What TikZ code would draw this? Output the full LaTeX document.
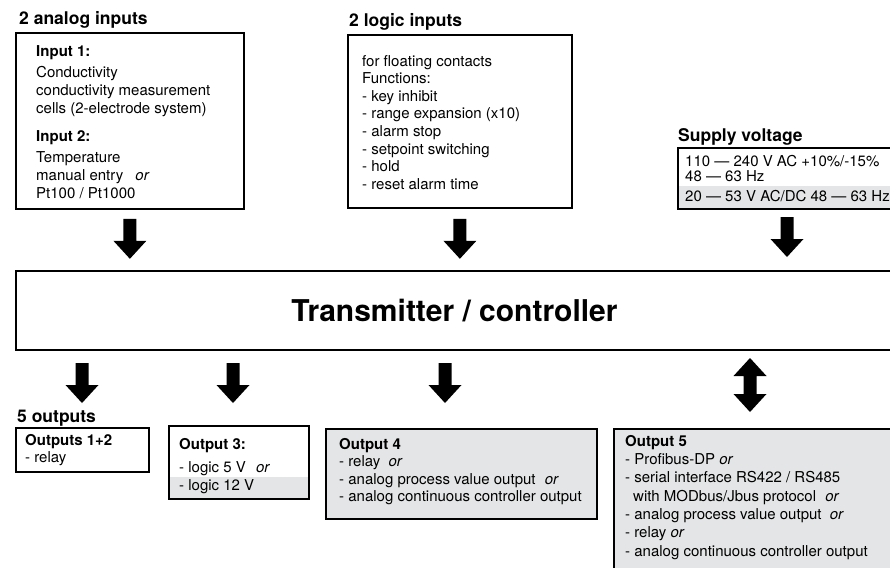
\documentclass[tikz,border=0pt]{standalone}
\usepackage{fontspec}
\setmainfont{TeX Gyre Heros}
\usetikzlibrary{calc}
\definecolor{boxgray}{HTML}{E4E5E6}
\begin{document}
\begin{tikzpicture}[x=1pt,y=-1pt,
  box/.style={draw=black, line width=1.8pt, inner sep=0pt, anchor=north west},
  obox/.style={draw=black, line width=2.2pt, inner sep=0pt, anchor=north west},
  body/.style={anchor=north west, inner sep=0pt, align=left, font=\fontsize{15}{17.6}\selectfont},
  ln/.style={anchor=base west, inner sep=0pt, font=\fontsize{15}{17}\selectfont},
  ttl/.style={anchor=base west, inner sep=0pt, font=\bfseries\fontsize{17.5}{20}\selectfont},
  downarrow/.pic={\fill[black] (-6.5,0) -- (6.5,0) -- (6.5,22) -- (16.5,22) -- (0,40) -- (-16.5,22) -- (-6.5,22) -- cycle;},
  updownarrow/.pic={\fill[black] (0,0) -- (16.5,18) -- (6.5,18) -- (6.5,36) -- (16.5,36) -- (0,54) -- (-16.5,36) -- (-6.5,36) -- (-6.5,18) -- (-16.5,18) -- cycle;}
]
\useasboundingbox (0,0) rectangle (890,567);

% ---- inputs ----
\node[ttl] (anattl) at (19,25) {2 analog inputs};
\node[box, minimum width=228pt, minimum height=176pt] (ana) at (15,32) {};
\node[body, font=\fontsize{15}{18}\selectfont] (anat) at (36,45)
  {\textbf{Input 1:}\\[3pt] Conductivity\\ conductivity measurement\\ cells (2-electrode system)\\[10pt]
   \textbf{Input 2:}\\[3pt] Temperature\\ manual entry\hspace{8pt} \textit{or}\\ Pt100 / Pt1000};

\node[ttl] (logttl) at (349,27) {2 logic inputs};
\node[box, minimum width=224pt, minimum height=173pt] (log) at (347,34) {};
\node[body] (logt) at (362,55)
  {for floating contacts\\ Functions:\\ - key inhibit\\ - range expansion (x10)\\ - alarm stop\\
   - setpoint switching\\ - hold\\ - reset alarm time};

\node[ttl] (supttl) at (678,141) {Supply voltage};
\fill[boxgray] (677,186) rectangle (893,208);
\node[box, minimum width=216pt, minimum height=61pt] (sup) at (677,147) {};
\node[ln] (sup1) at (685,166) {110 — 240 V AC +10\%/-15\%};
\node[ln] (sup2) at (685,181) {48 — 63 Hz};
\node[ln] (sup3) at (685,201) {20 — 53 V AC/DC 48 — 63 Hz};

% ---- arrows in ----
\pic at ($(ana.south)+(0,9)$) {downarrow};
\pic at ($(log.south)+(0,10)$) {downarrow};
\pic at (787,217) {downarrow};

% ---- main box ----
\node[box, minimum width=877pt, minimum height=79pt,
      font=\bfseries\fontsize{30}{34}\selectfont] (tc) at (15,270) {Transmitter / controller};

% ---- arrows out ----
\pic at (82,363) {downarrow};
\pic at (233,363) {downarrow};
\pic at (445,363) {downarrow};
\pic at (750,358) {updownarrow};

% ---- outputs ----
\node[ttl] (outttl) at (17,422) {5 outputs};

\node[obox, minimum width=133pt, minimum height=44pt] (o12) at (15,427) {};
\node[body, font=\fontsize{15}{17}\selectfont] (o12t) at (25,434)
  {\textbf{Outputs 1+2}\\ - relay};

\fill[boxgray] (168,477) rectangle (308,498);
\node[obox, minimum width=140pt, minimum height=73pt] (o3) at (168,425) {};
\node[body, font=\fontsize{15}{18}\selectfont] (o3t) at (179,438)
  {\textbf{Output 3:}\\[5pt] - logic 5 V\hspace{6pt} \textit{or}\\ - logic 12 V};

\node[obox, fill=boxgray, minimum width=271pt, minimum height=90pt] (o4) at (325,428) {};
\node[body, font=\fontsize{15}{17.4}\selectfont] (o4t) at (339,438)
  {\textbf{Output 4}\\ - relay\hspace{4pt} \textit{or}\\ - analog process value output\hspace{5pt} \textit{or}\\
   - analog continuous controller output};

\node[obox, fill=boxgray, minimum width=282pt, minimum height=150pt] (o5) at (613,428) {};
\node[body, font=\fontsize{15}{18.3}\selectfont] (o5t) at (625,435)
  {\textbf{Output 5}\\ - Profibus-DP \textit{or}\\ - serial interface RS422 / RS485\\
   \hspace*{8pt}with MODbus/Jbus protocol\hspace{5pt} \textit{or}\\
   - analog process value output\hspace{4pt} \textit{or}\\ - relay \textit{or}\\
   - analog continuous controller output};
\end{tikzpicture}
\end{document}
